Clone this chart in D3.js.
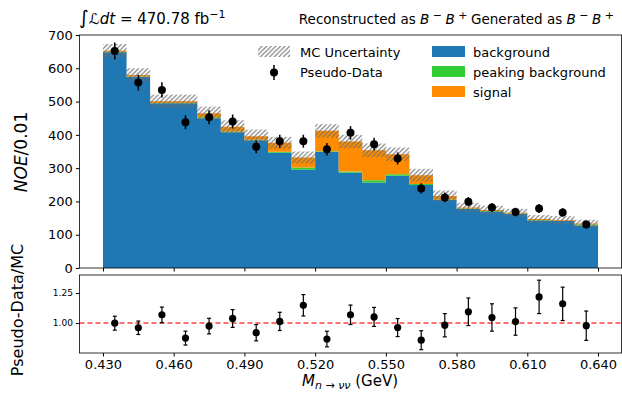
<!DOCTYPE html>
<html><head><meta charset="utf-8">
<script src="https://cdn.jsdelivr.net/npm/d3@7"></script>
<style>body{margin:0;background:#fff}svg{font-family:"DejaVu Sans",sans-serif}</style>
</head><body><svg id="c" width="622" height="395"></svg>
<script>
const binEdges = [0.43,0.44,0.45,0.46,0.47,0.48,0.49,0.50,0.51,0.52,0.53,0.54,0.55,0.56,0.57,0.58,0.59,0.60,0.61,0.62,0.63,0.64];
const background = [648,574,495,495,450,408,384,346,296,349,286,257,277,249,204,177,170,162,143,141,128];
const peaking    = [1,1,1,1,3,2,1,3,6,2,4,7,5,3,2,2,1,2,1,1,3];
const signal     = [4,5,5,5,12,14,11,27,30,61,90,90,60,27,10,3,3,2,3,2,3];
const mcUnc      = [20,20,20,20,20,20,20,18,18,20,20,20,20,19,17,14,13,12,12,12,11];
const pseudoData = [652,557,535,438,453,440,364,381,381,357,406,372,329,239,212,199,182,168,179,167,131];
const pseudoErr  = [25.5,23.6,23.1,20.9,21.3,21.0,19.1,19.5,19.5,18.9,20.1,19.3,18.1,15.5,14.6,14.1,13.5,13.0,13.4,12.9,11.4];
const ratioErr   = [0.058,0.056,0.065,0.058,0.065,0.074,0.068,0.076,0.089,0.065,0.081,0.079,0.075,0.079,0.097,0.115,0.114,0.114,0.139,0.139,0.122];
const yTicksMain = [0,100,200,300,400,500,600,700];
const yTicksRatio = [1.00,1.25];
const xTicks = [0.43,0.46,0.49,0.52,0.55,0.58,0.61,0.64];

const svg = d3.select("#c");
const L = 79.4, R = 621.6, mT = 35, mB = 268, rT = 275, rB = 353;
const x = d3.scaleLinear().domain([0.42,0.65]).range([L,R]);
const y = d3.scaleLinear().domain([0,700]).range([mB,mT]);
const yr = d3.scaleLinear().domain([0.75,1.40]).range([rB,rT]);

const defs = svg.append("defs");
const P = 4.6;
const pat = defs.append("pattern").attr("id","hatch").attr("patternUnits","userSpaceOnUse")
  .attr("width",P).attr("height",P);
pat.append("path").attr("d",`M-1,1 l2,-2 M0,${P} l${P},-${P} M${P-1},${P+1} l2,-2`)
  .attr("stroke","#6e6e6e").attr("stroke-width",1.1);

const bins = background.map((b,i)=>({x0:binEdges[i],x1:binEdges[i+1],b,p:peaking[i],s:signal[i],u:mcUnc[i],d:pseudoData[i],de:pseudoErr[i],re:ratioErr[i]}));
bins.forEach(o=>{o.tot=o.b+o.p+o.s; o.c=(o.x0+o.x1)/2; o.r=o.d/o.tot;});

// stacked step areas
const layers = [
  {lo:o=>0, hi:o=>o.b, col:"#1f77b4"},
  {lo:o=>o.b, hi:o=>o.b+o.p, col:"#32cd32"},
  {lo:o=>o.b+o.p, hi:o=>o.tot, col:"#ff8c00"}
];
const stepPts = fn => { const pts = bins.map(o=>({xv:o.x0, o})); pts.push({xv:bins[bins.length-1].x1, o:bins[bins.length-1]}); return pts; };
const gM = svg.append("g");
layers.forEach(ly=>{
  const area = d3.area().curve(d3.curveStepAfter).x(p=>x(p.xv)).y0(p=>y(ly.lo(p.o))).y1(p=>y(ly.hi(p.o)));
  gM.append("path").datum(stepPts()).attr("d",area).attr("fill",ly.col);
});
gM.selectAll(null).data(bins).enter().append("rect")
  .attr("x",o=>x(o.x0)).attr("width",o=>x(o.x1)-x(o.x0))
  .attr("y",o=>y(o.tot+o.u)).attr("height",o=>y(o.tot-o.u)-y(o.tot+o.u))
  .attr("fill","url(#hatch)");
// data points
gM.selectAll(null).data(bins).enter().append("line")
  .attr("x1",o=>x(o.c)).attr("x2",o=>x(o.c)).attr("y1",o=>y(o.d-o.de)).attr("y2",o=>y(o.d+o.de))
  .attr("stroke","#000").attr("stroke-width",1.5);
gM.selectAll(null).data(bins).enter().append("circle")
  .attr("cx",o=>x(o.c)).attr("cy",o=>y(o.d)).attr("r",4).attr("fill","#000");

// main axes
svg.append("rect").attr("x",L).attr("y",mT).attr("width",R-L).attr("height",mB-mT).attr("fill","none").attr("stroke","#000").attr("stroke-width",0.8);
const gy = svg.append("g").attr("transform",`translate(${L},0)`).call(d3.axisLeft(y).tickValues(yTicksMain).tickSize(3.5).tickPadding(3));
gy.select(".domain").remove();
gy.selectAll("text").attr("font-size",13).attr("font-family","DejaVu Sans").attr("fill","#000");
const gxm = svg.append("g").attr("transform",`translate(0,${mB})`).call(d3.axisBottom(x).tickValues(xTicks).tickSize(3.5).tickFormat(""));
gxm.select(".domain").remove();

// ratio panel
svg.append("line").attr("x1",L).attr("x2",R).attr("y1",yr(1)).attr("y2",yr(1))
  .attr("stroke","#ff2020").attr("stroke-width",1.3).attr("stroke-dasharray","5,3").attr("opacity",0.85);
const gR = svg.append("g");
gR.selectAll(null).data(bins).enter().append("line")
  .attr("x1",o=>x(o.c)).attr("x2",o=>x(o.c)).attr("y1",o=>yr(o.r-o.re)).attr("y2",o=>yr(o.r+o.re))
  .attr("stroke","#000").attr("stroke-width",1.2);
[-1,1].forEach(sg=>{
  gR.selectAll(null).data(bins).enter().append("line")
    .attr("x1",o=>x(o.c)-2).attr("x2",o=>x(o.c)+2).attr("y1",o=>yr(o.r+sg*o.re)).attr("y2",o=>yr(o.r+sg*o.re))
    .attr("stroke","#000").attr("stroke-width",1.2);
});
gR.selectAll(null).data(bins).enter().append("circle")
  .attr("cx",o=>x(o.c)).attr("cy",o=>yr(o.r)).attr("r",3.6).attr("fill","#000");
svg.append("rect").attr("x",L).attr("y",rT).attr("width",R-L).attr("height",rB-rT).attr("fill","none").attr("stroke","#000").attr("stroke-width",0.8);
const gyr = svg.append("g").attr("transform",`translate(${L},0)`).call(d3.axisLeft(yr).tickValues(yTicksRatio).tickSize(3.5).tickPadding(3).tickFormat(d3.format(".2f")));
gyr.select(".domain").remove();
gyr.selectAll("text").attr("font-size",9).attr("font-family","DejaVu Sans").attr("fill","#000");
const gxr = svg.append("g").attr("transform",`translate(0,${rB})`).call(d3.axisBottom(x).tickValues(xTicks).tickSize(3.5).tickPadding(3).tickFormat(d3.format(".3f")));
gxr.select(".domain").remove();
gxr.selectAll("text").attr("font-size",13).attr("font-family","DejaVu Sans").attr("fill","#000");

// labels
svg.append("text").attr("transform","translate(27,152) rotate(-90)").attr("text-anchor","middle")
  .attr("font-size",17).html('<tspan font-style="italic">NOE</tspan>/0.01');
svg.append("text").attr("transform","translate(23,310) rotate(-90)").attr("text-anchor","middle")
  .attr("font-size",16).text("Pseudo-Data/MC");
svg.append("text").attr("x",350).attr("y",386).attr("text-anchor","middle").attr("font-size",15)
  .html('<tspan font-style="italic">M</tspan><tspan font-size="11" dy="3" font-style="italic">n</tspan><tspan font-size="11"> → </tspan><tspan font-size="11" font-style="italic">νν</tspan><tspan dy="-3"> (GeV)</tspan>');
svg.append("text").attr("x",79).attr("y",24).attr("font-size",15)
  .html('<tspan font-size="19">∫</tspan><tspan font-style="italic">ℒdt</tspan> = 470.78 fb<tspan font-size="11" dy="-6">−1</tspan>');
svg.append("text").attr("x",614).attr("y",24).attr("text-anchor","end").attr("font-size",13.5)
  .html('Reconstructed as <tspan font-style="italic">B</tspan><tspan font-size="11" dy="-5"> − </tspan><tspan dy="5" font-style="italic">B</tspan><tspan font-size="11" dy="-5"> + </tspan><tspan dy="5"> Generated as </tspan><tspan font-style="italic">B</tspan><tspan font-size="11" dy="-5"> − </tspan><tspan dy="5" font-style="italic">B</tspan><tspan font-size="11" dy="-5"> +</tspan>');

// legend
const lg = svg.append("g").attr("font-size",13);
lg.append("rect").attr("x",258).attr("y",46).attr("width",32).attr("height",11).attr("fill","url(#hatch)");
lg.append("text").attr("x",300).attr("y",56.5).text("MC Uncertainty");
lg.append("line").attr("x1",274).attr("x2",274).attr("y1",65).attr("y2",80).attr("stroke","#000").attr("stroke-width",1.5);
lg.append("circle").attr("cx",274).attr("cy",72.5).attr("r",4).attr("fill","#000");
lg.append("text").attr("x",300).attr("y",77).text("Pseudo-Data");
const leg2=[["background","#1f77b4"],["peaking background","#32cd32"],["signal","#ff8c00"]];
leg2.forEach(([t,c],i)=>{
  lg.append("rect").attr("x",432).attr("y",46+i*20).attr("width",33).attr("height",11).attr("fill",c);
  lg.append("text").attr("x",473).attr("y",56.5+i*20).text(t);
});
</script></body></html>
